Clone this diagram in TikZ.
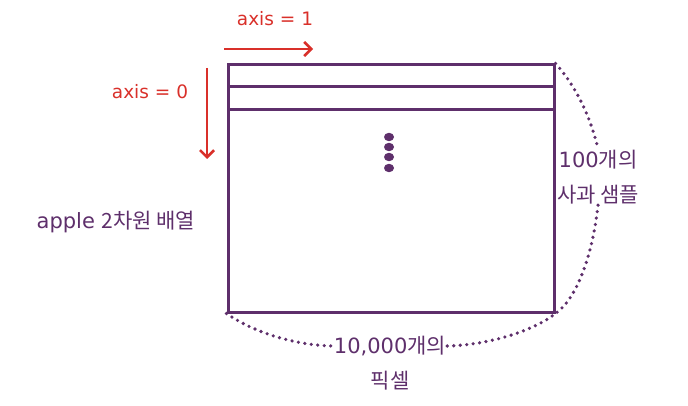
\documentclass[tikz,border=0pt]{standalone}
\usepackage{fontspec}
\setmainfont{DejaVu Sans}
\newfontfamily\kr{Noto Sans CJK KR}
\usetikzlibrary{arrows.meta}
\definecolor{myred}{HTML}{D9302A}
\definecolor{mypurple}{HTML}{5E2F6B}
\tikzset{
  redtxt/.style={text=myred, font=\fontsize{18.5}{22}\selectfont, inner sep=1pt},
  purtxt/.style={text=mypurple, font=\fontsize{21}{35}\selectfont, inner sep=1pt, align=center},
  redarrow/.style={draw=myred, line width=2.6pt, -{Straight Barb[length=7pt,width=14pt,line width=2.6pt]}},
  frame/.style={draw=mypurple, line width=3pt},
  dots/.style={draw=mypurple, line width=3.6pt, line cap=round, dash pattern=on 0pt off 6.5pt},
}
\begin{document}
\begin{tikzpicture}[x=1pt,y=-1pt]
\useasboundingbox (0,0) rectangle (688,406);
% array
\node[frame, minimum width=326pt, minimum height=247pt, inner sep=0pt] (arr) at (391,188.5) {};
\coordinate (r1l) at (228,87); \coordinate (r1r) at (554,87);
\coordinate (r2l) at (228,110); \coordinate (r2r) at (554,110);
\draw[frame] (r1l) -- (r1r);
\draw[frame] (r2l) -- (r2r);
% vertical dots
\foreach \y/\n in {137/a,147/b,157/c,168/d}{
  \fill[mypurple] (389,\y) ellipse (5pt and 4.2pt) coordinate (dot\n);
}
% axis arrows
\coordinate (a1s) at (224,49); \coordinate (a1e) at (313,49);
\draw[redarrow] (a1s) -- (a1e);
\node[redtxt] (ax1) at (275,19) {axis = 1};
\coordinate (a0s) at (207,68); \coordinate (a0e) at (207,159);
\draw[redarrow] (a0s) -- (a0e);
\node[redtxt] (ax0) at (150,92) {axis = 0};
% labels
\node[purtxt] (apple) at (116,222) {apple {\kr 2차원 배열}};
\node[purtxt] (samp) at (598,177) {100{\kr 개의}\\{\kr 사과 샘플}};
\node[purtxt] (pix1) at (390,346) {10,000{\kr 개의}};
\node[purtxt] (pix2) at (390,381) {\kr 픽셀};
% dotted braces
\draw[dots] (arr.north east) .. controls (575,85) and (590,115) .. (samp.north);
\draw[dots] (samp.south) .. controls (592,260) and (575,300) .. (arr.south east);
\draw[dots] (arr.south west) .. controls (250,330) and (290,345) .. (pix1.west);
\draw[dots] (pix1.east) .. controls (490,345) and (535,330) .. (arr.south east);
\end{tikzpicture}
\end{document}
